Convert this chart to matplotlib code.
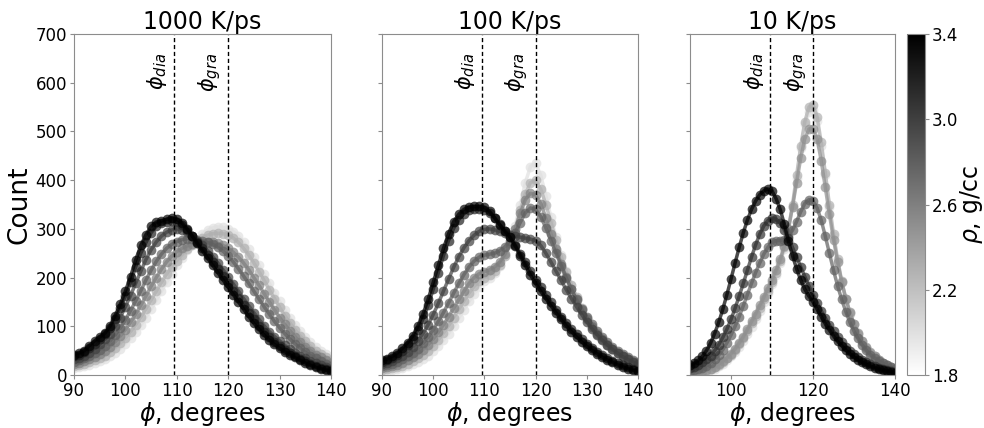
import numpy as np
import matplotlib
matplotlib.use("Agg")
import matplotlib.pyplot as plt
from matplotlib.colors import Normalize
from matplotlib.cm import ScalarMappable

# bond angle grid (degrees)
phi = list(range(90, 141))

PHI_DIA = 109.47
PHI_GRA = 120.0

# ---- 1000 K/ps ----
rho_1000 = [3.4, 3.2, 3.0, 2.8, 2.6, 2.3, 2.0]
counts_1000 = [
    [42, 45, 50, 60, 70, 78, 86, 100, 122, 145, 172, 202, 236, 266, 288, 305, 314, 316, 320, 323, 320,
     312, 300, 285, 270, 255, 240, 225, 210, 195, 180, 165, 150, 135, 120, 106, 94, 82, 72, 63, 55,
     48, 42, 36, 30, 25, 20, 16, 13, 10, 8],
    [38, 42, 47, 55, 64, 74, 84, 96, 115, 138, 162, 190, 222, 250, 272, 292, 305, 312, 315, 316, 314,
     308, 298, 286, 273, 260, 246, 232, 218, 203, 188, 173, 158, 143, 128, 114, 101, 89, 78, 68, 60,
     52, 45, 39, 33, 28, 23, 19, 15, 12, 10],
    [32, 35, 40, 46, 54, 63, 73, 85, 100, 118, 140, 163, 188, 213, 237, 257, 273, 285, 293, 298, 300,
     298, 293, 285, 276, 266, 255, 243, 230, 216, 202, 187, 172, 157, 142, 128, 114, 101, 89, 79, 70,
     61, 53, 46, 40, 34, 29, 24, 20, 16, 13],
    [27, 30, 34, 39, 45, 52, 60, 70, 82, 97, 113, 132, 152, 173, 195, 215, 233, 248, 260, 268, 274,
     278, 280, 280, 278, 275, 272, 268, 262, 254, 244, 232, 218, 203, 188, 172, 156, 140, 125, 110, 97,
     85, 74, 64, 55, 47, 40, 34, 28, 23, 19],
    [22, 25, 28, 32, 37, 43, 50, 58, 68, 80, 93, 108, 125, 143, 162, 182, 200, 217, 232, 244, 253,
     260, 265, 268, 270, 271, 272, 272, 270, 266, 260, 252, 242, 230, 216, 200, 184, 167, 150, 134, 118,
     104, 91, 79, 68, 58, 50, 42, 36, 30, 25],
    [18, 20, 23, 26, 30, 35, 40, 47, 55, 65, 76, 89, 103, 119, 136, 154, 172, 190, 207, 222, 235,
     247, 258, 267, 275, 282, 287, 290, 291, 290, 287, 281, 272, 260, 246, 230, 212, 194, 175, 157, 139,
     122, 107, 93, 80, 69, 59, 50, 43, 36, 30],
    [14, 16, 18, 21, 24, 28, 33, 39, 46, 54, 64, 75, 88, 102, 118, 135, 153, 172, 190, 208, 225,
     241, 256, 269, 280, 290, 297, 302, 304, 303, 300, 294, 285, 273, 259, 243, 225, 207, 188, 169, 151,
     134, 118, 103, 90, 78, 67, 58, 50, 43, 37],
]

# ---- 100 K/ps ----
rho_100 = [3.4, 3.2, 3.0, 2.8, 2.6, 2.3, 2.0]
counts_100 = [
    [30, 33, 38, 45, 55, 66, 80, 100, 125, 155, 190, 225, 260, 290, 315, 330, 340, 345, 346, 346, 344,
     336, 323, 308, 295, 283, 265, 245, 225, 205, 188, 172, 157, 142, 128, 114, 101, 89, 78, 68, 59,
     51, 44, 37, 31, 26, 21, 17, 13, 10, 8],
    [27, 30, 35, 41, 50, 61, 74, 92, 115, 143, 176, 210, 245, 276, 301, 319, 331, 338, 341, 341, 339,
     333, 322, 309, 296, 283, 267, 249, 231, 213, 196, 180, 164, 149, 134, 120, 107, 95, 84, 74, 64,
     56, 48, 41, 35, 29, 24, 20, 16, 12, 9],
    [22, 25, 29, 34, 40, 48, 58, 70, 85, 103, 124, 147, 172, 197, 221, 243, 261, 276, 287, 295, 299,
     300, 298, 295, 291, 288, 285, 283, 281, 279, 276, 266, 250, 232, 213, 194, 175, 157, 140, 124, 109,
     95, 83, 72, 62, 53, 45, 38, 32, 27, 22],
    [18, 20, 23, 27, 32, 38, 45, 54, 65, 78, 93, 110, 128, 148, 168, 188, 206, 222, 234, 242, 246,
     248, 250, 255, 263, 275, 292, 313, 333, 343, 340, 325, 302, 276, 250, 224, 199, 176, 155, 136, 119,
     104, 90, 78, 67, 58, 50, 43, 37, 31, 26],
    [14, 16, 18, 21, 25, 30, 36, 43, 52, 62, 74, 88, 103, 120, 137, 155, 172, 188, 200, 208, 212,
     216, 222, 232, 248, 270, 300, 332, 360, 373, 370, 352, 323, 290, 258, 228, 201, 176, 154, 134, 115,
     99, 85, 73, 62, 53, 45, 38, 32, 27, 23],
    [10, 12, 14, 16, 19, 23, 28, 34, 41, 50, 60, 72, 86, 101, 118, 135, 152, 168, 182, 193, 200,
     206, 214, 226, 244, 268, 300, 338, 372, 395, 400, 382, 350, 313, 277, 243, 212, 185, 161, 138, 118,
     101, 87, 74, 63, 54, 46, 39, 33, 28, 24],
    [8, 9, 11, 13, 15, 18, 22, 27, 33, 40, 49, 59, 71, 85, 100, 117, 134, 151, 167, 181, 192,
     200, 210, 224, 244, 270, 306, 350, 395, 428, 435, 410, 368, 324, 283, 246, 213, 184, 158, 135, 115,
     98, 84, 72, 61, 52, 44, 37, 31, 26, 22],
]

# ---- 10 K/ps ----
rho_10 = [3.4, 3.1, 2.8, 2.5, 2.3, 2.0]
counts_10 = [
    [20, 24, 30, 38, 50, 65, 85, 108, 135, 165, 197, 230, 262, 292, 318, 340, 357, 370, 378, 382, 378,
     362, 340, 310, 275, 245, 218, 195, 176, 162, 150, 135, 120, 105, 92, 80, 69, 60, 51, 44, 37,
     31, 26, 22, 18, 15, 12, 10, 8, 7, 5],
    [14, 17, 21, 26, 32, 40, 50, 62, 77, 94, 114, 137, 162, 188, 215, 242, 267, 289, 306, 317, 322,
     320, 312, 298, 281, 262, 242, 222, 202, 183, 165, 148, 132, 117, 103, 90, 78, 67, 58, 50, 43,
     37, 31, 26, 22, 18, 15, 12, 10, 8, 7],
    [8, 10, 12, 15, 19, 25, 32, 41, 52, 66, 82, 100, 120, 142, 165, 188, 210, 230, 248, 262, 272,
     276, 276, 278, 285, 297, 315, 335, 352, 360, 357, 343, 318, 285, 250, 215, 183, 155, 130, 108, 90,
     75, 62, 51, 42, 35, 29, 24, 20, 16, 13],
    [4, 5, 6, 8, 10, 13, 17, 22, 28, 35, 44, 54, 66, 79, 94, 110, 126, 143, 160, 178, 196,
     216, 238, 265, 300, 345, 395, 445, 485, 505, 505, 485, 440, 385, 330, 278, 232, 191, 157, 129, 105,
     86, 70, 57, 47, 38, 31, 25, 20, 16, 13],
    [3, 4, 5, 7, 9, 12, 16, 21, 27, 34, 42, 52, 63, 76, 90, 106, 122, 138, 155, 172, 190,
     210, 233, 262, 300, 350, 410, 470, 520, 550, 555, 530, 478, 415, 350, 290, 238, 193, 157, 128, 104,
     85, 69, 56, 46, 38, 31, 25, 20, 16, 13],
    [3, 3, 4, 6, 8, 10, 13, 18, 23, 30, 38, 47, 58, 70, 84, 99, 115, 132, 150, 168, 186,
     206, 229, 258, 296, 345, 405, 465, 515, 540, 545, 522, 470, 410, 345, 286, 235, 190, 155, 126, 102,
     83, 67, 55, 45, 37, 30, 24, 19, 15, 12],
]

titles = ["1000 K/ps", "100 K/ps", "10 K/ps"]
rho_sets = [rho_1000, rho_100, rho_10]
count_sets = [counts_1000, counts_100, counts_10]

cmap = plt.cm.gray_r
norm = Normalize(vmin=1.8, vmax=3.4)
spine_col = "#8c8c8c"

fig = plt.figure(figsize=(9.84, 4.28), dpi=100)
W, H = 984, 428
boxes = [(74, 257), (382, 256), (690, 205)]
top, bottom = 34, 375
axes = []
for i, (x0, w) in enumerate(boxes):
    ax = fig.add_axes([x0 / W, (H - bottom) / H, w / W, (bottom - top) / H])
    axes.append(ax)

for i, ax in enumerate(axes):
    # lightest first, darkest on top
    order = np.argsort(rho_sets[i])
    for j in order:
        c = cmap(norm(rho_sets[i][j]))
        ax.plot(phi, count_sets[i][j], "-o", color=c, lw=2.5, ms=7, alpha=0.7,
                mec="none")
    for xv in (PHI_DIA, PHI_GRA):
        ax.axvline(xv, color="k", ls="--", lw=1, dashes=(3, 2))
    ax.text(PHI_DIA - 1.0, 662, r"$\phi_{dia}$", rotation=90, ha="right", va="top", fontsize=15)
    ax.text(PHI_GRA - 1.0, 662, r"$\phi_{gra}$", rotation=90, ha="right", va="top", fontsize=15)
    ax.set_xlim(90, 140)
    ax.set_ylim(0, 700)
    ax.set_title(titles[i], fontsize=17, pad=3)
    ax.set_xlabel(r"$\phi$, degrees", fontsize=17, labelpad=0)
    if i < 2:
        ax.set_xticks(range(90, 141, 10))
    else:
        ax.set_xticks([100, 120, 140])
    ax.set_yticks(range(0, 701, 100))
    if i == 0:
        ax.set_ylabel("Count", fontsize=19, labelpad=2)
    else:
        ax.set_yticklabels([])
    ax.tick_params(labelsize=12, length=3, width=0.8, color=spine_col, pad=2)
    for s in ax.spines.values():
        s.set_color(spine_col)

cax = fig.add_axes([907 / W, (H - bottom) / H, 18 / W, (bottom - top) / H])
sm = ScalarMappable(norm=norm, cmap=cmap)
cb = fig.colorbar(sm, cax=cax, ticks=[1.8, 2.2, 2.6, 3.0, 3.4])
cb.set_label(r"$\rho$, g/cc", fontsize=17, labelpad=0)
cb.outline.set_edgecolor(spine_col)
cb.ax.tick_params(labelsize=12, length=3, color=spine_col, pad=2)

fig.savefig("out.png", dpi=100)
